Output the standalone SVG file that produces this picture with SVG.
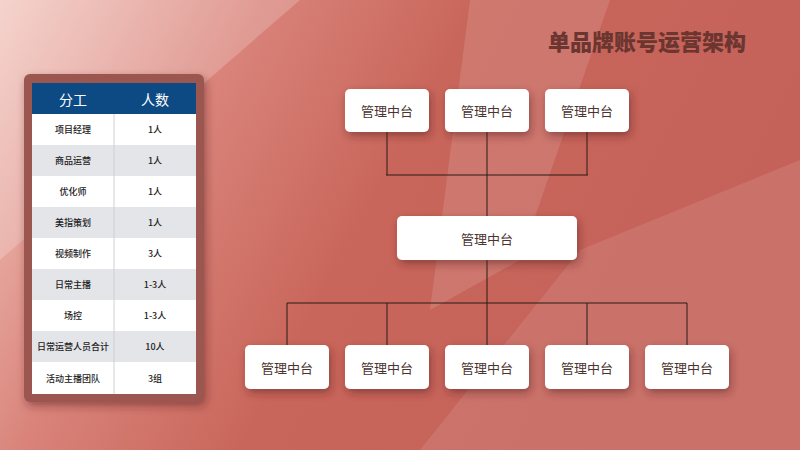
<svg xmlns="http://www.w3.org/2000/svg" width="800" height="450" viewBox="0 0 800 450">
<defs>
<linearGradient id="bg" x1="0" y1="0" x2="1" y2="0.3">
<stop offset="0" stop-color="#f3c9c1"/><stop offset="0.3" stop-color="#d9837a"/><stop offset="0.55" stop-color="#c9665b"/><stop offset="1" stop-color="#c4625a"/>
</linearGradient>
<filter id="sh" x="-30%" y="-30%" width="160%" height="170%"><feDropShadow dx="2" dy="4" stdDeviation="4" flood-color="#5a1f1a" flood-opacity="0.5"/></filter>
<style>
.box{fill:#fff;filter:url(#sh)}
.t{font-family:"Noto Sans CJK SC","Liberation Sans",sans-serif;font-size:13px;fill:#4a3430;text-anchor:middle;dominant-baseline:central}
.c{font-family:"Noto Sans CJK SC","Liberation Sans",sans-serif;font-size:9px;font-weight:500;fill:#222;text-anchor:middle;dominant-baseline:central}
.ln{stroke:#2a1a18;stroke-width:1;fill:none}
</style>
</defs>
<rect width="800" height="450" fill="url(#bg)"/>
<polygon points="470,0 610,0 520,260 430,310" fill="#fff" opacity="0.12"/>
<polygon points="580,250 800,160 800,450 420,450" fill="#fff" opacity="0.1"/>
<polygon points="0,0 300,0 0,260" fill="#fff" opacity="0.2"/>
<text x="647" y="40" font-family="Noto Sans CJK SC,sans-serif" font-size="22" font-weight="900" fill="#6b3530" text-anchor="middle" dominant-baseline="central">单品牌账号运营架构</text>
<g id="table">
<rect x="24" y="74" width="180" height="328" rx="6" fill="#9a574f" filter="url(#sh)"/>
<rect x="32" y="83" width="164" height="31" fill="#0d4a84"/>
<text x="73" y="98.5" class="t" style="fill:#fff;font-size:14px">分工</text>
<text x="155" y="98.5" class="t" style="fill:#fff;font-size:14px">人数</text>
<g>
<rect x="32" y="114" width="164" height="31" fill="#fff"/>
<rect x="32" y="145" width="164" height="31" fill="#e4e5e9"/>
<rect x="32" y="176" width="164" height="31" fill="#fff"/>
<rect x="32" y="207" width="164" height="31" fill="#e4e5e9"/>
<rect x="32" y="238" width="164" height="31" fill="#fff"/>
<rect x="32" y="269" width="164" height="31" fill="#e4e5e9"/>
<rect x="32" y="300" width="164" height="31" fill="#fff"/>
<rect x="32" y="331" width="164" height="31" fill="#e4e5e9"/>
<rect x="32" y="362" width="164" height="32" fill="#fff"/>
<line x1="114" y1="114" x2="114" y2="394" stroke="#d0d0d4"/>
</g>
<text x="73" y="129.5" class="c">项目经理</text><text x="155" y="129.5" class="c">1人</text>
<text x="73" y="160.5" class="c">商品运营</text><text x="155" y="160.5" class="c">1人</text>
<text x="73" y="191.5" class="c">优化师</text><text x="155" y="191.5" class="c">1人</text>
<text x="73" y="222.5" class="c">美指策划</text><text x="155" y="222.5" class="c">1人</text>
<text x="73" y="253.5" class="c">视频制作</text><text x="155" y="253.5" class="c">3人</text>
<text x="73" y="284.5" class="c">日常主播</text><text x="155" y="284.5" class="c">1-3人</text>
<text x="73" y="315.5" class="c">场控</text><text x="155" y="315.5" class="c">1-3人</text>
<text x="73" y="346.5" class="c">日常运营人员合计</text><text x="155" y="346.5" class="c">10人</text>
<text x="73" y="378" class="c">活动主播团队</text><text x="155" y="378" class="c">3组</text>
</g>
<g id="connectors" class="ln">
<path d="M387,132V175M487,132V216M587,132V175M386,175H588"/>
<path d="M487,260V303M287,303H687M287,303V345M387,303V345M487,303V345M587,303V345M687,303V345"/>
</g>
<g id="t1"><rect class="box" x="345" y="89" width="84" height="43" rx="5"/><text class="t" x="387" y="110.5">管理中台</text></g>
<g id="t2"><rect class="box" x="445" y="89" width="84" height="43" rx="5"/><text class="t" x="487" y="110.5">管理中台</text></g>
<g id="t3"><rect class="box" x="545" y="89" width="84" height="43" rx="5"/><text class="t" x="587" y="110.5">管理中台</text></g>
<g id="mid"><rect class="box" x="397" y="216" width="180" height="44" rx="5"/><text class="t" x="487" y="238">管理中台</text></g>
<g id="b1"><rect class="box" x="245" y="345" width="84" height="44" rx="5"/><text class="t" x="287" y="367">管理中台</text></g>
<g id="b2"><rect class="box" x="345" y="345" width="84" height="44" rx="5"/><text class="t" x="387" y="367">管理中台</text></g>
<g id="b3"><rect class="box" x="445" y="345" width="84" height="44" rx="5"/><text class="t" x="487" y="367">管理中台</text></g>
<g id="b4"><rect class="box" x="545" y="345" width="84" height="44" rx="5"/><text class="t" x="587" y="367">管理中台</text></g>
<g id="b5"><rect class="box" x="645" y="345" width="84" height="44" rx="5"/><text class="t" x="687" y="367">管理中台</text></g>
</svg>
